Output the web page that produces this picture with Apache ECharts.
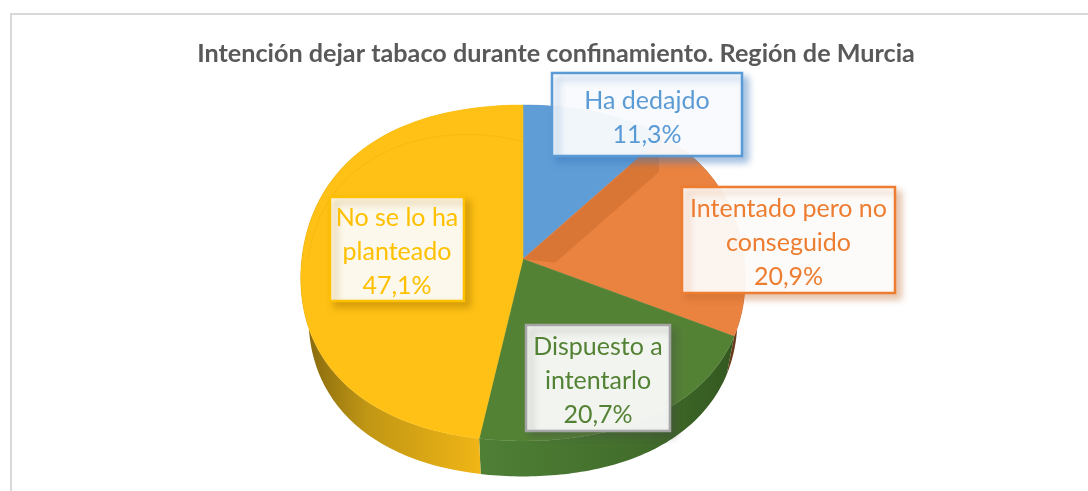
<!DOCTYPE html>
<html>
<head>
<meta charset="utf-8">
<title>Intención dejar tabaco</title>
<style>
  html, body { margin: 0; padding: 0; background: #fff; }
  #main { width: 1088px; height: 491px; }
</style>
<script src="https://cdn.jsdelivr.net/npm/echarts@6/dist/echarts.min.js"></script>
</head>
<body>
<div id="main"></div>
<script>
var chartTitle = 'Intención dejar tabaco durante confinamiento. Región de Murcia';
var categories = ['Ha dedajdo', 'Intentado pero no\nconseguido', 'Dispuesto a\nintentarlo', 'No se lo ha\nplanteado'];
var shares = [11.3, 20.9, 20.7, 47.1];

// colores de cada porcion
var topColors = ['#5f9dd6', '#ea8340', '#548235', '#ffc115'];
var textColors = ['#5b9bd5', '#ed7d31', '#548235', '#ffc000'];
var borderColors = ['#5b9bd5', '#ed7d31', '#a5a5a5', '#ffc000'];
var shadowColors = ['rgba(60,120,190,.5)', 'rgba(190,100,40,.4)', 'rgba(70,70,70,.32)', 'rgba(170,120,0,.5)'];
var sideStops = [
    [[0, '#3f6f9f'], [1, '#3f6f9f']],
    [[0, '#7a4420'], [1, '#6a3a1a']],
    [[0, '#4f8036'], [0.6, '#426d2b'], [1, '#32561f']],
    [[0, '#86690f'], [0.35, '#c09614'], [1, '#f0b516']]
];
var boxes = [[552, 73, 190, 83], [682, 187, 213, 106], [526, 325, 144, 106], [330, 197, 134, 104]];

// el circulo se proyecta en perspectiva, el vertice no cae en el centro de la elipse
var vx = 523, vy = 259, kx = 221.2, ky = 166.8, persp = 0.0833;
var depth = 40, lowerScaleX = 0.965, lowerScaleY = 0.975, bulge = 0.035, steps = 72;

var starts = [];
var acc = 0;
shares.forEach(function (s) { starts.push(acc); acc += s; });

function rad(pct) { return pct * 3.6 * Math.PI / 180; }

function pt(a, r) {
    var s2 = Math.sin(2 * a);
    var rr = r * (1 + bulge * s2 * s2);
    var u = rr * Math.sin(a), v = -rr * Math.cos(a);
    var d = 1 - persp * v;
    return [vx + kx * u / d, vy + ky * v / d];
}
function rim(i) {
    var a0 = rad(starts[i]), a1 = rad(starts[i] + shares[i]);
    var pts = [];
    for (var n = 0; n <= steps; n++) pts.push(pt(a0 + (a1 - a0) * n / steps, 1));
    return pts;
}
function lower(p) {
    return [vx + (p[0] - vx) * lowerScaleX, vy + (p[1] - vy) * lowerScaleY + depth];
}

function renderSide(params) {
    var i = params.dataIndex;
    var top = rim(i);
    var bottom = top.map(lower).reverse();
    return {
        type: 'polygon',
        shape: { points: top.concat(bottom) },
        style: {
            fill: {
                type: 'linear', global: true,
                x: i === 3 ? 305 : 480, y: 0, x2: i === 3 ? 480 : 745, y2: 0,
                colorStops: sideStops[i].map(function (c) { return { offset: c[0], color: c[1] }; })
            }
        }
    };
}

function renderTop(params) {
    var i = params.dataIndex;
    var children = [{
        type: 'polygon',
        shape: { points: [pt(0, 0)].concat(rim(i)) },
        style: { fill: topColors[i], stroke: topColors[i], lineWidth: 0.5 }
    }];
    var a0 = rad(starts[i]);
    if (i === 1) {
        // cara mas oscura junto al borde
        var g = Math.PI / 180;
        children.push({
            type: 'polygon',
            shape: { points: [pt(a0, 0), pt(a0, 0.97), pt(a0 + 9 * g, 0.815), pt(a0 + 58 * g, 0.147)] },
            style: { fill: 'rgba(160,75,20,.22)' }
        });
    }
    if (i === 3) {
        // brillo del bisel
        var arc = [];
        for (var n = 0; n <= 40; n++) {
            var t = n / 40;
            arc.push(pt(Math.PI * 1.5 + t * Math.PI / 2, 0.97 - 0.224 * t * t));
        }
        children.push({
            type: 'polyline',
            shape: { points: arc },
            style: { fill: null, stroke: 'rgba(205,140,0,.16)', lineWidth: 1 }
        });
    }
    return { type: 'group', children: children };
}

function renderLabel(params) {
    var i = params.dataIndex;
    var b = boxes[i];
    return {
        type: 'group',
        children: [{
            type: 'rect',
            shape: { x: b[0], y: b[1], width: b[2], height: b[3] },
            style: {
                fill: 'rgba(255,255,255,.92)',
                stroke: borderColors[i],
                lineWidth: 2.5,
                shadowColor: shadowColors[i],
                shadowBlur: 7,
                shadowOffsetX: 5,
                shadowOffsetY: 5
            }
        }, {
            type: 'text',
            x: b[0] + b[2] / 2,
            y: b[1] + b[3] / 2 + 3,
            style: {
                text: categories[i] + '\n' + shares[i].toFixed(1).replace('.', ',') + '%',
                fill: textColors[i],
                fontFamily: 'Lato',
                fontSize: 25,
                lineHeight: 34,
                align: 'center',
                verticalAlign: 'middle'
            }
        }]
    };
}

var myChart = echarts.init(document.getElementById('main'));

var option = {
    animation: false,
    backgroundColor: '#fff',
    title: {
        text: chartTitle,
        left: 551,
        top: 36,
        textAlign: 'center',
        textStyle: { fontFamily: 'Lato', fontSize: 25.2, fontWeight: 'bold', color: '#595959' }
    },
    graphic: [{
        type: 'polyline',
        silent: true,
        shape: { points: [[11, 500], [11, 14], [1095, 14]] },
        style: { fill: null, stroke: '#d9d9d9', lineWidth: 2 }
    }],
    series: [
        { type: 'custom', coordinateSystem: 'none', silent: true, data: shares, renderItem: renderSide, z: 2 },
        { type: 'custom', coordinateSystem: 'none', silent: true, data: shares, renderItem: renderTop, z: 3 },
        { type: 'custom', coordinateSystem: 'none', silent: true, data: shares, renderItem: renderLabel, z: 4 }
    ]
};
myChart.setOption(option);
</script>
</body>
</html>
